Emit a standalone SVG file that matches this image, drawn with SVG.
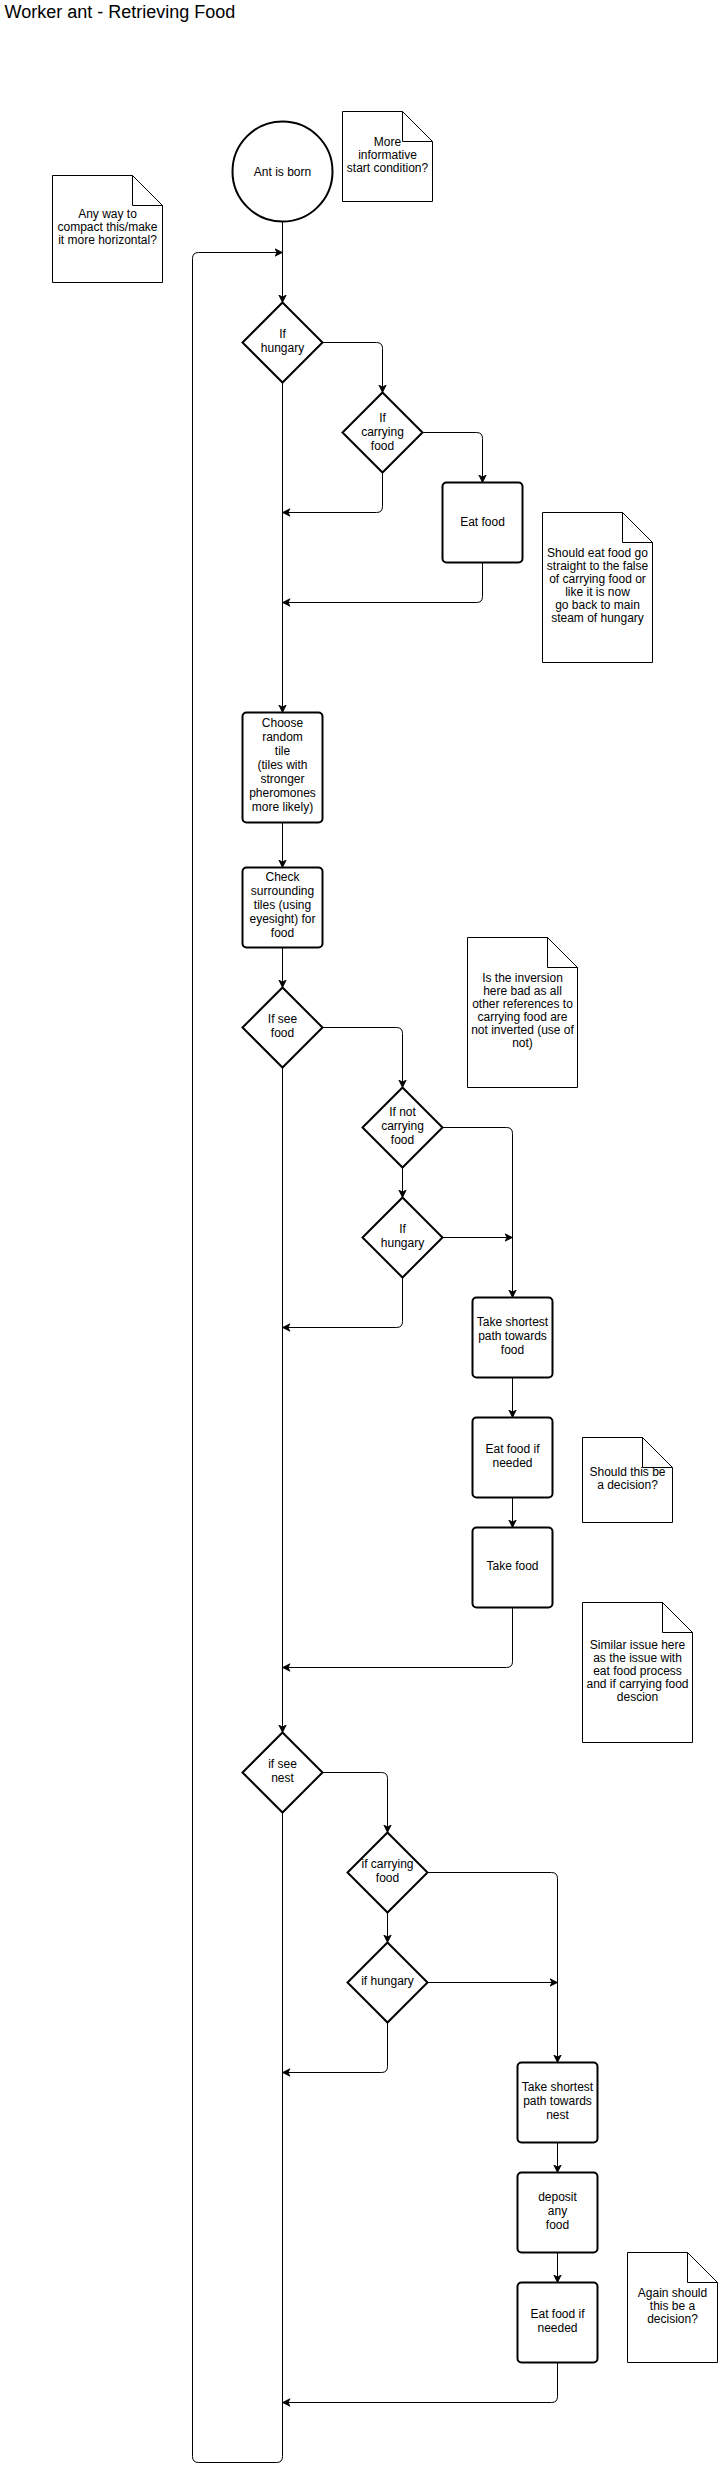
<svg xmlns="http://www.w3.org/2000/svg" width="719" height="2472" viewBox="0 0 719 2472">
<style>
text{font-family:"Liberation Sans",Arial,Helvetica,sans-serif;font-size:12px;fill:#000;text-anchor:middle}
.title{font-size:18px;text-anchor:start}
.shape{fill:#fff;stroke:#000;stroke-width:2}
.note{fill:#fff;stroke:#000;stroke-width:1}
.edge{fill:none;stroke:#000;stroke-width:1;marker-end:url(#arrow)}
</style>
<defs>
<marker id="arrow" markerUnits="userSpaceOnUse" markerWidth="10" markerHeight="10" refX="8" refY="5" orient="auto">
<path d="M8,5 L0.5,1.3 L2.5,5 L0.5,8.7 Z" fill="#000" stroke="#000" stroke-width="0.8"/>
</marker>
</defs>
<rect width="719" height="2472" fill="#fff"/>
<text class="title" x="4.5" y="18">Worker ant - Retrieving Food</text>

<g id="connectors">
<path class="edge" d="M282.5,221.5 V302.5"/>
<path class="edge" d="M322.5,342.5 H376.5 Q382.5,342.5 382.5,348.5 V392.5"/>
<path class="edge" d="M282.5,382.5 V712.5"/>
<path class="edge" d="M382.5,472.5 V506.5 Q382.5,512.5 376.5,512.5 H282.5"/>
<path class="edge" d="M422.5,432.5 H476.5 Q482.5,432.5 482.5,438.5 V482.5"/>
<path class="edge" d="M482.5,562.5 V596.5 Q482.5,602.5 476.5,602.5 H282.5"/>
<path class="edge" d="M282.5,822.5 V867.5"/>
<path class="edge" d="M282.5,947.5 V987.5"/>
<path class="edge" d="M322.5,1027.5 H396.5 Q402.5,1027.5 402.5,1033.5 V1087.5"/>
<path class="edge" d="M282.5,1067.5 V1732.5"/>
<path class="edge" d="M442.5,1127.5 H506.5 Q512.5,1127.5 512.5,1133.5 V1297.5"/>
<path class="edge" d="M402.5,1167.5 V1197.5"/>
<path class="edge" d="M442.5,1237.5 H512.5"/>
<path class="edge" d="M402.5,1277.5 V1321.5 Q402.5,1327.5 396.5,1327.5 H282.5"/>
<path class="edge" d="M512.5,1377.5 V1417.5"/>
<path class="edge" d="M512.5,1497.5 V1527.5"/>
<path class="edge" d="M512.5,1607.5 V1661.5 Q512.5,1667.5 506.5,1667.5 H282.5"/>
<path class="edge" d="M322.5,1772.5 H381.5 Q387.5,1772.5 387.5,1778.5 V1832.5"/>
<path class="edge" d="M282.5,1812.5 V2456.5 Q282.5,2462.5 276.5,2462.5 H198.5 Q192.5,2462.5 192.5,2456.5 V258.5 Q192.5,252.5 198.5,252.5 H282.5"/>
<path class="edge" d="M427.5,1872.5 H551.5 Q557.5,1872.5 557.5,1878.5 V2062.5"/>
<path class="edge" d="M387.5,1912.5 V1942.5"/>
<path class="edge" d="M427.5,1982.5 H557.5"/>
<path class="edge" d="M387.5,2022.5 V2066.5 Q387.5,2072.5 381.5,2072.5 H282.5"/>
<path class="edge" d="M557.5,2142.5 V2172.5"/>
<path class="edge" d="M557.5,2252.5 V2282.5"/>
<path class="edge" d="M557.5,2362.5 V2396.5 Q557.5,2402.5 551.5,2402.5 H282.5"/>
</g>

<g id="start">
<circle class="shape" cx="282.5" cy="171.5" r="50"/>
<text x="282.5" y="175.5">Ant is born</text>
</g>

<g id="note-start">
<path class="note" d="M342.5,111.5 H402.5 L432.5,141.5 V201.5 H342.5 Z M402.5,111.5 V141.5 H432.5"/>
<text x="387.5" y="146">More</text>
<text x="387.5" y="159">informative</text>
<text x="387.5" y="172">start condition?</text>
</g>

<g id="note-compact">
<path class="note" d="M52.5,175.5 H132.5 L162.5,205.5 V282.5 H52.5 Z M132.5,175.5 V205.5 H162.5"/>
<text x="107.5" y="218">Any way to</text>
<text x="107.5" y="231">compact this/make</text>
<text x="107.5" y="244">it more horizontal?</text>
</g>

<g id="if-hungary-1">
<path class="shape" d="M282.5,302.5 L322.5,342.5 L282.5,382.5 L242.5,342.5 Z"/>
<text x="282.5" y="338">If</text>
<text x="282.5" y="352">hungary</text>
</g>

<g id="if-carrying-food-1">
<path class="shape" d="M382.5,392.5 L422.5,432.5 L382.5,472.5 L342.5,432.5 Z"/>
<text x="382.5" y="421.5">If</text>
<text x="382.5" y="435.5">carrying</text>
<text x="382.5" y="449.5">food</text>
</g>

<g id="eat-food">
<rect class="shape" x="442.5" y="482.5" width="80" height="80" rx="4"/>
<text x="482.5" y="525.5">Eat food</text>
</g>

<g id="note-eat-food">
<path class="note" d="M542.5,512.5 H622.5 L652.5,542.5 V662.5 H542.5 Z M622.5,512.5 V542.5 H652.5"/>
<text x="597.5" y="556.5">Should eat food go</text>
<text x="597.5" y="569.5">straight to the false</text>
<text x="597.5" y="582.5">of carrying food or</text>
<text x="597.5" y="595.5">like it is now</text>
<text x="597.5" y="608.5">go back to main</text>
<text x="597.5" y="621.5">steam of hungary</text>
</g>

<g id="choose-tile">
<rect class="shape" x="242.5" y="712.5" width="80" height="110" rx="4"/>
<text x="282.5" y="727">Choose</text>
<text x="282.5" y="741">random</text>
<text x="282.5" y="755">tile</text>
<text x="282.5" y="769">(tiles with</text>
<text x="282.5" y="783">stronger</text>
<text x="282.5" y="797">pheromones</text>
<text x="282.5" y="811">more likely)</text>
</g>

<g id="check-tiles">
<rect class="shape" x="242.5" y="867.5" width="80" height="80" rx="4"/>
<text x="282.5" y="881">Check</text>
<text x="282.5" y="895">surrounding</text>
<text x="282.5" y="909">tiles (using</text>
<text x="282.5" y="923">eyesight) for</text>
<text x="282.5" y="937">food</text>
</g>

<g id="if-see-food">
<path class="shape" d="M282.5,987.5 L322.5,1027.5 L282.5,1067.5 L242.5,1027.5 Z"/>
<text x="282.5" y="1023">If see</text>
<text x="282.5" y="1037">food</text>
</g>

<g id="note-inversion">
<path class="note" d="M467.5,937.5 H547.5 L577.5,967.5 V1087.5 H467.5 Z M547.5,937.5 V967.5 H577.5"/>
<text x="522.5" y="982">Is the inversion</text>
<text x="522.5" y="995">here bad as all</text>
<text x="522.5" y="1008">other references to</text>
<text x="522.5" y="1021">carrying food are</text>
<text x="522.5" y="1034">not inverted (use of</text>
<text x="522.5" y="1047">not)</text>
</g>

<g id="if-not-carrying-food">
<path class="shape" d="M402.5,1087.5 L442.5,1127.5 L402.5,1167.5 L362.5,1127.5 Z"/>
<text x="402.5" y="1116">If not</text>
<text x="402.5" y="1130">carrying</text>
<text x="402.5" y="1144">food</text>
</g>

<g id="if-hungary-2">
<path class="shape" d="M402.5,1197.5 L442.5,1237.5 L402.5,1277.5 L362.5,1237.5 Z"/>
<text x="402.5" y="1233">If</text>
<text x="402.5" y="1247">hungary</text>
</g>

<g id="path-to-food">
<rect class="shape" x="472.5" y="1297.5" width="80" height="80" rx="4"/>
<text x="512.5" y="1326">Take shortest</text>
<text x="512.5" y="1340">path towards</text>
<text x="512.5" y="1354">food</text>
</g>

<g id="eat-food-if-needed-1">
<rect class="shape" x="472.5" y="1417.5" width="80" height="80" rx="4"/>
<text x="512.5" y="1453">Eat food if</text>
<text x="512.5" y="1467">needed</text>
</g>

<g id="note-decision-1">
<path class="note" d="M582.5,1437.5 H642.5 L672.5,1467.5 V1522.5 H582.5 Z M642.5,1437.5 V1467.5 H672.5"/>
<text x="627.5" y="1476">Should this be</text>
<text x="627.5" y="1489">a decision?</text>
</g>

<g id="take-food">
<rect class="shape" x="472.5" y="1527.5" width="80" height="80" rx="4"/>
<text x="512.5" y="1570">Take food</text>
</g>

<g id="note-similar">
<path class="note" d="M582.5,1602.5 H662.5 L692.5,1632.5 V1742.5 H582.5 Z M662.5,1602.5 V1632.5 H692.5"/>
<text x="637.5" y="1649">Similar issue here</text>
<text x="637.5" y="1662">as the issue with</text>
<text x="637.5" y="1675">eat food process</text>
<text x="637.5" y="1688">and if carrying food</text>
<text x="637.5" y="1701">descion</text>
</g>

<g id="if-see-nest">
<path class="shape" d="M282.5,1732.5 L322.5,1772.5 L282.5,1812.5 L242.5,1772.5 Z"/>
<text x="282.5" y="1768">if see</text>
<text x="282.5" y="1782">nest</text>
</g>

<g id="if-carrying-food-2">
<path class="shape" d="M387.5,1832.5 L427.5,1872.5 L387.5,1912.5 L347.5,1872.5 Z"/>
<text x="387.5" y="1868">if carrying</text>
<text x="387.5" y="1882">food</text>
</g>

<g id="if-hungary-3">
<path class="shape" d="M387.5,1942.5 L427.5,1982.5 L387.5,2022.5 L347.5,1982.5 Z"/>
<text x="387.5" y="1985">if hungary</text>
</g>

<g id="path-to-nest">
<rect class="shape" x="517.5" y="2062.5" width="80" height="80" rx="4"/>
<text x="557.5" y="2091">Take shortest</text>
<text x="557.5" y="2105">path towards</text>
<text x="557.5" y="2119">nest</text>
</g>

<g id="deposit-food">
<rect class="shape" x="517.5" y="2172.5" width="80" height="80" rx="4"/>
<text x="557.5" y="2201">deposit</text>
<text x="557.5" y="2215">any</text>
<text x="557.5" y="2229">food</text>
</g>

<g id="eat-food-if-needed-2">
<rect class="shape" x="517.5" y="2282.5" width="80" height="80" rx="4"/>
<text x="557.5" y="2318">Eat food if</text>
<text x="557.5" y="2332">needed</text>
</g>

<g id="note-decision-2">
<path class="note" d="M627.5,2252.5 H687.5 L717.5,2282.5 V2362.5 H627.5 Z M687.5,2252.5 V2282.5 H717.5"/>
<text x="672.5" y="2297">Again should</text>
<text x="672.5" y="2310">this be a</text>
<text x="672.5" y="2323">decision?</text>
</g>
</svg>
